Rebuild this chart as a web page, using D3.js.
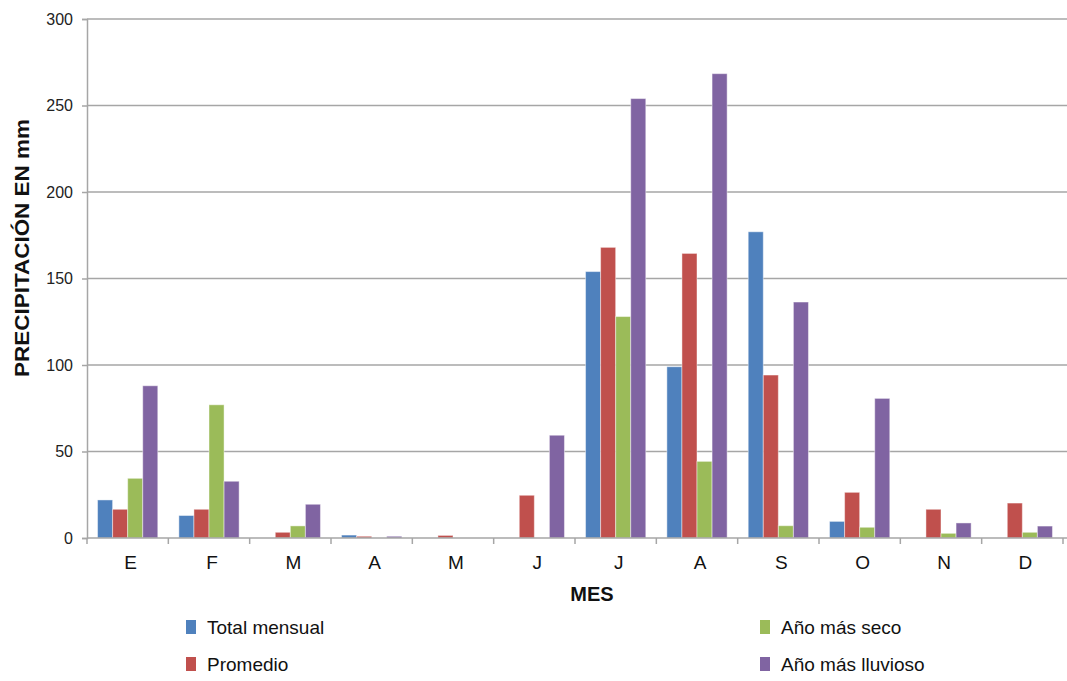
<!DOCTYPE html>
<html>
<head>
<meta charset="utf-8">
<script src="https://cdn.jsdelivr.net/npm/d3@7"></script>
<style>
  body { margin: 0; background: #fff; }
  svg { display: block; }
  text { font-family: "Liberation Sans", Arial, sans-serif; }
</style>
</head>
<body>
<svg id="chart" width="1067" height="681"></svg>
<script>
const months = ["E", "F", "M", "A", "M", "J", "J", "A", "S", "O", "N", "D"];
const seriesNames = ["Total mensual", "Promedio", "Año más seco", "Año más lluvioso"];
const seriesColors = ["#4F81BD", "#C0504D", "#9BBB59", "#8064A2"];
const totalMensual = [22, 13, 0, 1.7, 0, 0, 154, 99, 177, 9.6, 0, 0];
const promedio = [16.6, 16.6, 3.3, 1, 1.5, 24.7, 168, 164.5, 94.2, 26.4, 16.6, 20.2];
const anoMasSeco = [34.5, 77, 7, 0, 0, 0, 128, 44.3, 7.1, 6.2, 2.7, 3.3];
const anoMasLluvioso = [88, 32.8, 19.5, 1, 0, 59.4, 254, 268.4, 136.4, 80.7, 8.7, 6.9];
const yTicks = [0, 50, 100, 150, 200, 250, 300];

const series = [totalMensual, promedio, anoMasSeco, anoMasLluvioso];

const svg = d3.select("#chart");
const mLeft = 87, mRight = 1063, mTop = 19, mBottom = 538;

const x = d3.scaleBand().domain(d3.range(months.length)).range([mLeft, mRight]).paddingInner(0).paddingOuter(0);
const xi = d3.scaleBand().domain(d3.range(series.length)).range([0, x.bandwidth()]).paddingOuter(0.7).paddingInner(0);
const y = d3.scaleLinear().domain([0, 300]).range([mBottom, mTop]);

// gridlines
svg.append("g").selectAll("line").data(yTicks.filter(d => d > 0)).join("line")
  .attr("x1", mLeft).attr("x2", 1067)
  .attr("y1", d => y(d)).attr("y2", d => y(d))
  .attr("stroke", "#a6a6a6").attr("stroke-width", 1.5);

// y axis
const yAxis = svg.append("g").attr("transform", `translate(${mLeft},0)`)
  .call(d3.axisLeft(y).tickValues(yTicks).tickSize(5).tickPadding(9));
yAxis.select(".domain").attr("stroke", "#a6a6a6").attr("stroke-width", 1.5);
yAxis.selectAll(".tick line").attr("stroke", "#a6a6a6").attr("stroke-width", 1.5);
yAxis.selectAll(".tick text").attr("font-size", 16).attr("fill", "#222")
  .attr("font-family", "'Liberation Sans', Arial, sans-serif");

// bars
const groups = svg.append("g").selectAll("g").data(series).join("g")
  .attr("fill", (d, i) => seriesColors[i]);
groups.each(function(vals, si) {
  d3.select(this).selectAll("rect").data(vals.map((v, mi) => ({v, mi}))).join("rect")
    .attr("x", d => x(d.mi) + xi(si))
    .attr("width", xi.bandwidth())
    .attr("y", d => y(d.v))
    .attr("height", d => mBottom - y(d.v))
    .attr("stroke", "rgba(255,255,255,0.45)")
    .attr("stroke-width", 1);
});

// x axis
const xAxis = svg.append("g").attr("transform", `translate(0,${mBottom})`);
xAxis.append("line").attr("x1", mLeft).attr("x2", 1067).attr("y1", 0).attr("y2", 0)
  .attr("stroke", "#a6a6a6").attr("stroke-width", 1.5);
xAxis.selectAll("line.tick").data(d3.range(months.length + 1)).join("line")
  .attr("class", "tick")
  .attr("x1", d => mLeft + d * x.step()).attr("x2", d => mLeft + d * x.step())
  .attr("y1", 0).attr("y2", 6)
  .attr("stroke", "#a6a6a6").attr("stroke-width", 1.5);
xAxis.selectAll("text").data(months).join("text")
  .attr("x", (d, i) => x(i) + x.bandwidth() / 2 + 3)
  .attr("y", 31)
  .attr("text-anchor", "middle")
  .attr("font-size", 19)
  .attr("fill", "#111")
  .text(d => d);

// axis titles
svg.append("text")
  .attr("transform", "translate(29,248) rotate(-90)")
  .attr("text-anchor", "middle")
  .attr("font-size", 21).attr("font-weight", "bold").attr("fill", "#111")
  .attr("textLength", 258).attr("lengthAdjust", "spacingAndGlyphs")
  .text("PRECIPITACIÓN EN mm");
svg.append("text")
  .attr("x", 592).attr("y", 601)
  .attr("text-anchor", "middle")
  .attr("font-size", 20).attr("font-weight", "bold").attr("fill", "#111")
  .text("MES");

// legend
const legendPos = [[186, 627], [186, 664], [760, 627], [760, 664]];
const legend = svg.append("g").selectAll("g").data(seriesNames).join("g")
  .attr("transform", (d, i) => `translate(${legendPos[i][0]},${legendPos[i][1]})`);
legend.append("rect").attr("x", 0).attr("y", -7).attr("width", 10).attr("height", 14)
  .attr("fill", (d, i) => seriesColors[i]);
legend.append("text").attr("x", 21).attr("y", 7)
  .attr("font-size", 19).attr("fill", "#111")
  .text(d => d);
</script>
</body>
</html>
